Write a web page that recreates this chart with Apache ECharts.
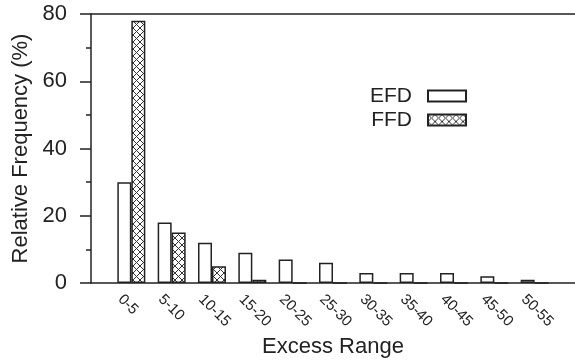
<!DOCTYPE html>
<html>
<head>
<meta charset="utf-8">
<script src="https://cdn.jsdelivr.net/npm/echarts@6/dist/echarts.min.js"></script>
<style>
    html, body { margin: 0; padding: 0; background: #fff; }
    #chart { width: 575px; height: 363px; }
</style>
</head>
<body>
<div id="chart"></div>
<script>
// ============ 数据 ============
const categories = ['0-5', '5-10', '10-15', '15-20', '20-25', '25-30', '30-35', '35-40', '40-45', '45-50', '50-55'];
const efdValues = [30, 18, 12, 9, 7, 6, 3, 3, 3, 2, 1];
const ffdValues = [78, 15, 5, 1, 0, 0, 0, 0, 0, 0, 0];
const yTicks = [0, 20, 40, 60, 80];

// 类别轴两端各空一格, 柱子落在刻度上
const slots = [''].concat(categories, ['']);
const pad = v => [null].concat(v, [null]);

const INK = '#222';
const FONT = 'Liberation Sans, Arial, Helvetica, sans-serif';

// ============ 交叉斜线填充 ============
function makeHatch() {
    const c = document.createElement('canvas');
    c.width = 7;
    c.height = 7;
    const ctx = c.getContext('2d');
    ctx.fillStyle = '#fff';
    ctx.fillRect(0, 0, 7, 7);
    ctx.strokeStyle = '#333';
    ctx.lineWidth = 1;
    ctx.beginPath();
    ctx.moveTo(0, 0); ctx.lineTo(7, 7);
    ctx.moveTo(7, 0); ctx.lineTo(0, 7);
    ctx.stroke();
    return { image: c, repeat: 'repeat' };
}

const chart = echarts.init(document.getElementById('chart'));

chart.setOption({
    animation: false,
    textStyle: { fontFamily: FONT, color: INK },
    grid: [
        { left: 91, width: 484, top: 14, bottom: 78 },
        // 只用来摆放斜排的类别标签, 往左挪一点
        { left: 80, width: 484, top: 14, bottom: 78 },
    ],
    legend: {
        data: ['EFD', 'FFD'],
        orient: 'vertical',
        align: 'right',
        right: 108,
        top: 85,
        padding: 0,
        itemGap: 2,
        itemWidth: 38,
        itemHeight: 11,
        icon: 'rect',
        textStyle: { fontSize: 21, color: INK, lineHeight: 22, padding: [0, 11, 0, 0] },
    },
    xAxis: [
        {
            type: 'category',
            gridIndex: 0,
            data: slots,
            boundaryGap: false,
            axisLine: { lineStyle: { color: INK, width: 1.5 } },
            axisTick: { show: false },
            axisLabel: { show: false },
            splitLine: { show: false },
            name: 'Excess Range',
            nameLocation: 'middle',
            nameGap: 53,
            nameTextStyle: { fontSize: 22, color: INK },
        },
        {
            type: 'category',
            gridIndex: 0,
            position: 'top',
            data: slots,
            boundaryGap: false,
            axisLine: { lineStyle: { color: INK, width: 1.5 } },
            axisTick: { show: false },
            axisLabel: { show: false },
        },
        {
            type: 'category',
            gridIndex: 1,
            data: slots,
            boundaryGap: false,
            axisLine: { show: false },
            axisTick: { show: false },
            axisLabel: {
                interval: 0,
                rotate: -45,
                align: 'left',
                verticalAlign: 'middle',
                margin: 12,
                fontSize: 15,
                color: INK,
            },
        },
    ],
    yAxis: [
        {
            type: 'value',
            gridIndex: 0,
            min: yTicks[0],
            max: yTicks[yTicks.length - 1],
            interval: 20,
            axisLine: { show: true, lineStyle: { color: INK, width: 1.5 } },
            axisTick: { show: true, length: 11, lineStyle: { color: INK, width: 1.5 } },
            minorTick: { show: true, splitNumber: 2, length: 5, lineStyle: { color: INK, width: 1.5 } },
            splitLine: { show: false },
            axisLabel: { fontSize: 22, color: INK, margin: 24 },
            name: 'Relative Frequency (%)',
            nameLocation: 'middle',
            nameGap: 55,
            nameTextStyle: { fontSize: 22, color: INK },
        },
        { type: 'value', gridIndex: 1, show: false, min: 0, max: 80 },
    ],
    series: [
        {
            name: 'EFD',
            type: 'bar',
            xAxisIndex: 0,
            yAxisIndex: 0,
            data: pad(efdValues),
            barWidth: 14,
            barGap: '0%',
            itemStyle: { color: '#fff', borderColor: INK, borderWidth: 1.5 },
        },
        {
            name: 'FFD',
            type: 'bar',
            xAxisIndex: 0,
            yAxisIndex: 0,
            data: pad(ffdValues),
            barWidth: 14,
            barGap: '0%',
            itemStyle: { color: makeHatch(), borderColor: INK, borderWidth: 1.5 },
        },
    ],
});
</script>
</body>
</html>
